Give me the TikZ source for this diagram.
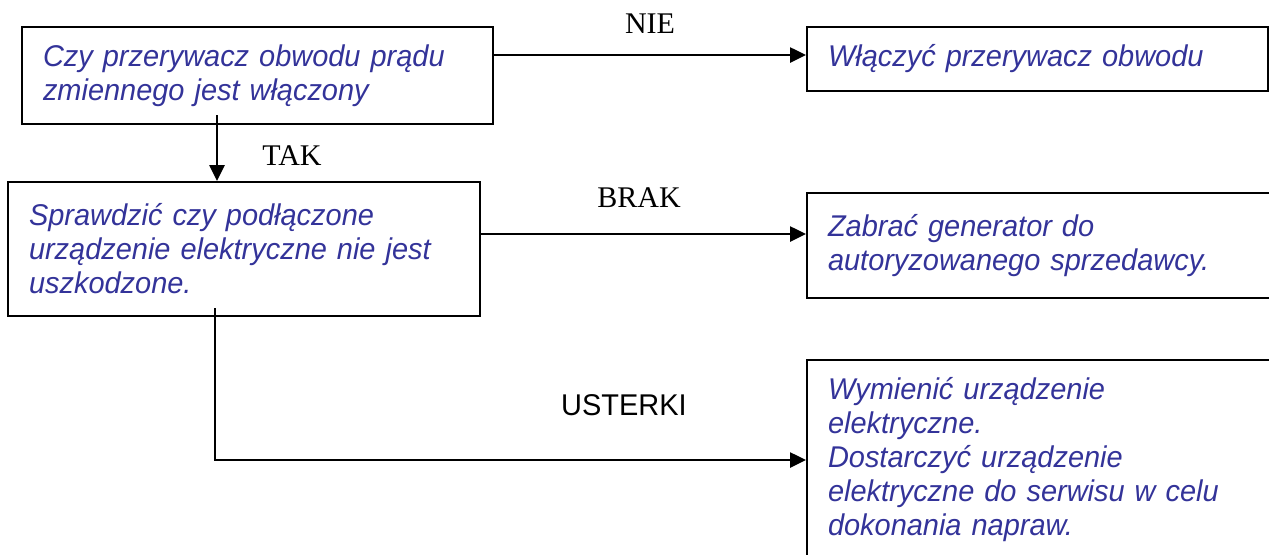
\documentclass[tikz,border=0pt]{standalone}
\usepackage{fontspec}
\setmainfont{Liberation Serif}
\newfontfamily\boxfont[FakeStretch=0.965]{Liberation Sans}
\usepackage{xcolor}
\usetikzlibrary{arrows.meta}
\definecolor{stepblue}{HTML}{333399}

\begin{document}
\begin{tikzpicture}[x=0.5pt,y=-0.5pt,
  stepbox/.style={draw,line width=1pt,anchor=north west,inner xsep=10.5pt,inner ysep=0pt,
    align=left,text=stepblue,font=\boxfont\itshape\fontsize{15}{17}\selectfont},
  answer/.style={inner sep=0pt,anchor=base,font=\fontsize{15}{17}\selectfont},
  flow/.style={line width=1.3pt,-{Triangle[length=8pt,width=7.5pt]}}]
  \useasboundingbox (0,0) rectangle (1269,554);

  \node (chk) [stepbox,text width=214.5pt,minimum height=48.5pt] at (21,26)
    {Czy przerywacz obwodu prądu\\zmiennego jest włączony};
  \node (fix) [stepbox,text width=209.5pt,minimum height=32pt] at (806,26)
    {Włączyć przerywacz obwodu};
  \node (test) [stepbox,text width=215pt,minimum height=67pt] at (7,181)
    {Sprawdzić czy podłączone\\urządzenie elektryczne nie jest\\uszkodzone.};
  \node (dealer) [stepbox,text width=221pt,minimum height=52.5pt] at (806,192)
    {Zabrać generator do\\autoryzowanego sprzedawcy.};
  \node (repair) [stepbox,text width=221pt,minimum height=100pt] at (806,359)
    {Wymienić urządzenie\\elektryczne.\\Dostarczyć urządzenie\\elektryczne do serwisu w celu\\dokonania napraw.};

  \path (chk.north east) +(0,29) coordinate (chko);
  \path (fix.north west) +(0,29) coordinate (fixi);
  \draw[flow] (chko) -- (fixi) node (lnie) [answer,midway,yshift=11pt] {NIE};

  \path (chk.south west) +(196,-10) coordinate (chkt);
  \path (test.north west) +(210,0) coordinate (testi);
  \draw[flow] (chkt) -- (testi) node (ltak) [answer,midway,xshift=37.5pt,yshift=-8.5pt] {TAK};

  \path (test.north east) +(0,53) coordinate (testb);
  \path (dealer.north west) +(0,42) coordinate (dealeri);
  \draw[flow] (testb) -- (dealeri) node (lbrak) [answer,midway,xshift=-2.25pt,yshift=13.5pt] {BRAK};

  \path (test.south west) +(208,-9) coordinate (testu);
  \path (repair.north west) +(0,101) coordinate (repairi);
  \draw[flow] (testu) |- (repairi)
    node (lust) [answer,pos=0.846,yshift=22.5pt,font=\boxfont\fontsize{15}{17}\selectfont] {USTERKI};
\end{tikzpicture}
\end{document}
